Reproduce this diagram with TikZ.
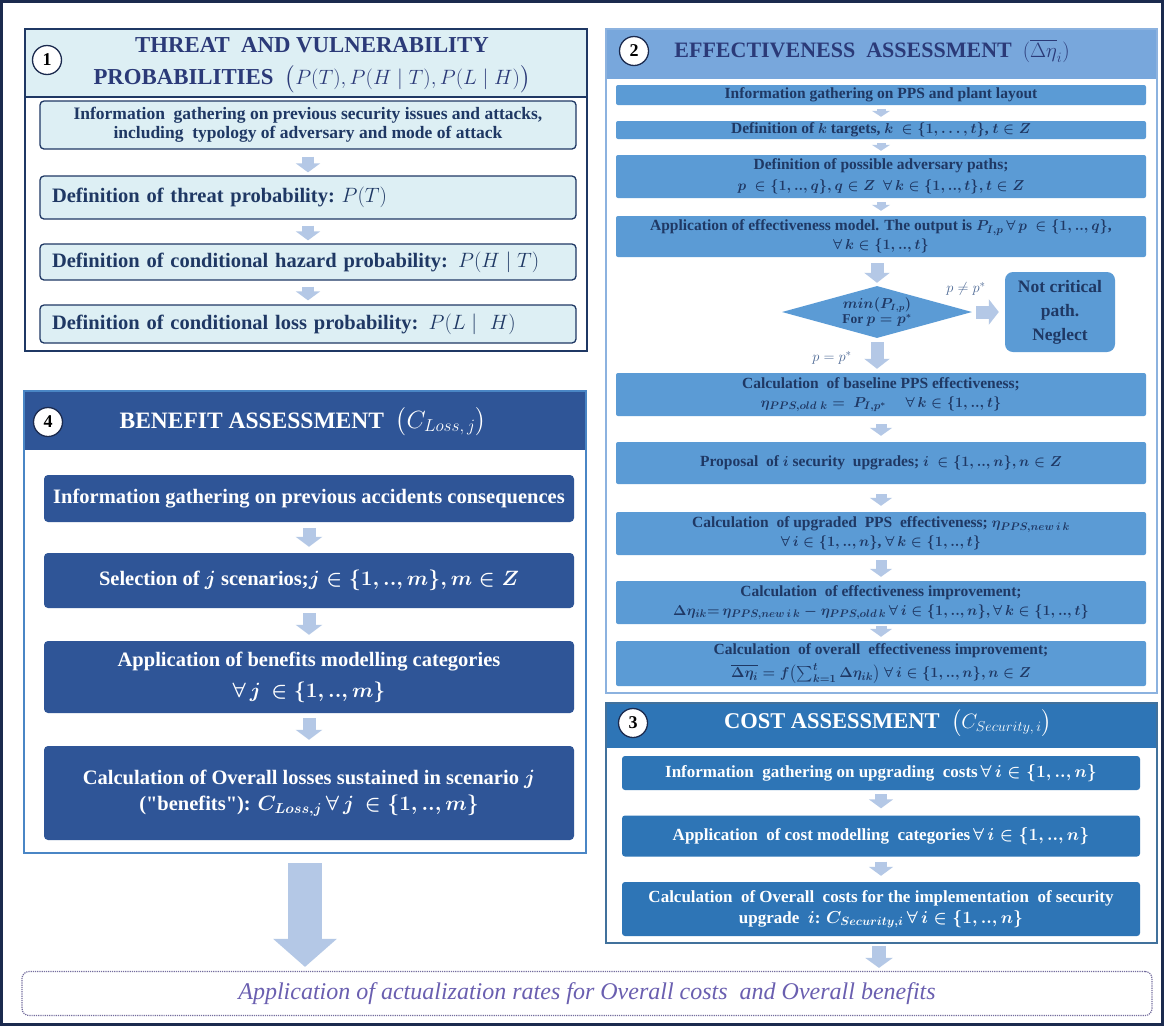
\documentclass[tikz,border=0pt]{standalone}
\usepackage{amsmath,amssymb}
\usepackage{fontspec}
\setmainfont{Liberation Serif}
\setmonofont{Liberation Serif}
\usetikzlibrary{arrows.meta,shapes.geometric,calc}
\definecolor{navy}{HTML}{1F3864}
\definecolor{frame}{HTML}{1B2A4E}
\definecolor{cyanbg}{HTML}{DDEFF4}
\definecolor{ttl}{HTML}{2B3A78}
\definecolor{midblue}{HTML}{5B9BD5}
\definecolor{hdrblue}{HTML}{78A7DC}
\definecolor{ptwob}{HTML}{8CB2DF}
\definecolor{costblue}{HTML}{2E75B6}
\definecolor{pthreeb}{HTML}{41719C}
\definecolor{benblue}{HTML}{2F5597}
\definecolor{pfourb}{HTML}{4A86C5}
\definecolor{arrowblue}{HTML}{B4C8E6}
\definecolor{purp}{HTML}{6A5FB0}
\definecolor{lbl}{HTML}{4C6894}
\newcommand\fs[2]{\fontsize{#1}{#2}\selectfont}
\newcommand\sq{{\ttfamily\bfseries "}}
\tikzset{
 numc/.style={circle, draw=frame, line width=1.3pt, fill=white, minimum size=29pt, inner sep=0pt, font=\bfseries\fs{18}{20}, text=black},
 boxone/.style={draw=navy, line width=1.3pt, fill=cyanbg, rounded corners=4pt, minimum width=536pt, inner sep=0pt, text=navy},
 boxtwo/.style={fill=midblue, rounded corners=2pt, minimum width=530pt, inner sep=0pt, align=center, text=navy, font=\bfseries\boldmath\fs{15.5}{19}},
 boxthree/.style={fill=costblue, rounded corners=3pt, minimum width=518pt, inner sep=0pt, align=center, text=white, font=\bfseries\boldmath\fs{17}{21}},
 boxfour/.style={fill=benblue, rounded corners=4pt, minimum width=530pt, inner sep=0pt, align=center, text=white, font=\bfseries\boldmath\fs{20.5}{26}},
 panelframe/.style={draw, line width=2pt, anchor=north west, inner sep=0pt},
 flow/.style={draw=arrowblue, line width=12pt, -{Triangle[width=24pt,length=9pt]}},
 bigflow/.style={draw=arrowblue, line width=34pt, -{Triangle[width=62pt,length=28pt]}},
 lblsty/.style={text=lbl, font=\fs{15}{17}, inner sep=1pt},
}
\begin{document}
\begin{tikzpicture}[x=1pt,y=-1pt]
\useasboundingbox (0,0) rectangle (1164,1026);
\fill[white] (0,0) rectangle (1164,1026);
\draw[frame, line width=3pt] (1.5,1.5) rectangle (1162.5,1024.5);

% ---------- Panel 1 ----------
\fill[cyanbg] (24,28) rectangle (586,97);
\draw[navy, line width=1.2pt] (24,97) -- (586,97);
\node[panelframe, draw=navy, minimum width=562pt, minimum height=322pt] (P1) at (24,28) {};
\node[numc] (c1) at (47,60) {1};
\node[text=ttl, font=\bfseries\fs{22.8}{22.8}, align=center] (t1) at (312,45) {THREAT\ \ AND VULNERABILITY};
\node[text=ttl, font=\bfseries\fs{22.8}{22.8}, align=center] (t1b) at (312,79)
  {PROBABILITIES\ \ $\bigl(P(T),P(H\mid T),P(L\mid H)\bigr)$};
\node[boxone, minimum height=48pt, align=center, font=\bfseries\fs{17.5}{19.5}] (a1) at (308,125)
  {Information\ \ gathering on previous security issues and attacks,\\including\ \ typology of adversary and mode of attack};
\node[boxone, minimum height=43pt, align=left, text width=512pt, inner xsep=12pt, font=\bfseries\fs{20.5}{23}] (b1) at (308,197.5)
  {Definition of threat probability:\ $P(T)$};
\node[boxone, minimum height=36pt, align=left, text width=512pt, inner xsep=12pt, font=\bfseries\fs{20.5}{23}] (b2) at (308,262)
  {Definition of conditional hazard probability: $P(H\mid T)$};
\node[boxone, minimum height=38pt, align=left, text width=512pt, inner xsep=12pt, font=\bfseries\fs{20.5}{23}] (b3) at (308,324)
  {Definition of conditional loss probability: $P(L\mid\ H)$};
\draw[flow, shorten <=7pt, shorten >=3pt] (a1) -- (b1);
\draw[flow, shorten <=6pt, shorten >=3pt] (b1) -- (b2);
\draw[flow, shorten <=6pt, shorten >=4pt] (b2) -- (b3);

% ---------- Panel 2 ----------
\fill[hdrblue] (605,28) rectangle (1156,79);
\node[panelframe, draw=ptwob, minimum width=551pt, minimum height=664pt] (P2) at (605,28) {};
\node[numc] (c2) at (634,51) {2};
\node[text=ttl, font=\bfseries\fs{22}{26}] (t2) at (872,51)
  {EFFECTIVENESS\ \ ASSESSMENT\ \ $(\overline{\Delta\eta}_i)$};
\node[boxtwo, minimum height=20pt] (e1) at (881,95) {Information gathering on PPS and plant\ layout};
\node[boxtwo, minimum height=18pt] (e2) at (881,130) {Definition of $k$ targets, $k\ \in\{1,\dots,t\}$,\ $t\in Z$};
\node[boxtwo, minimum height=43pt] (e3) at (881,176.5)
  {Definition of possible adversary paths;\\[2pt] $p\ \in\{1,..,q\}, q\in Z\ \ \forall\, k\in\{1,..,t\}, t\in Z$};
\node[boxtwo, minimum height=41pt] (e4) at (881,236.5)
  {Application of effectiveness model. The output is $P_{I,p}\,\forall\, p\ \in\{1,..,q\}$,\\$\forall\, k\in\{1,..,t\}$};
\node[diamond, fill=midblue, aspect=3.6, inner sep=0pt, minimum width=190pt, minimum height=52pt,
      text=navy, font=\bfseries\boldmath\fs{13.5}{15.5}, align=center] (dia) at (877,312)
  {$min(P_{I,p})$\\For $p=p^{*}$};
\node[fill=midblue, rounded corners=8pt, minimum width=110pt, minimum height=80pt, inner sep=0pt,
      align=center, text=navy, font=\bfseries\fs{17.5}{24}] (nc) at (1060,312) {Not critical\\path.\\Neglect};
\node[lblsty] (lne) at (966,289) {$p\neq p^{*}$};
\node[lblsty] (leq) at (832,358) {$p=p^{*}$};
\node[boxtwo, minimum height=43pt] (e5) at (881,394.5)
  {Calculation\ \ of baseline PPS effectiveness;\\$\eta_{PPS,old\ k} =\ P_{I,p^{*}}\quad\ \forall\, k\in\{1,..,t\}$};
\node[boxtwo, minimum height=42pt] (e6) at (881,463)
  {Proposal\ \ of $i$ security\ \ upgrades;\ $i\ \in\{1,..,n\}, n\in Z$};
\node[boxtwo, minimum height=43pt] (e7) at (881,533.5)
  {Calculation\ \ of upgraded\ \ PPS\ \ effectiveness; $\eta_{PPS,new\,i\,k}$\\$\forall\, i\in\{1,..,n\}$,\ $\forall\, k\in\{1,..,t\}$};
\node[boxtwo, minimum height=43pt] (e8) at (881,602.5)
  {Calculation\ \ of effectiveness improvement;\\$\Delta\eta_{ik}{=}\,\eta_{PPS,new\,i\,k}-\eta_{PPS,old\,k}\,\forall\, i\in\{1,..,n\}, \forall\, k\in\{1,..,t\}$};
\node[boxtwo, minimum height=45pt] (e9) at (881,663.5)
  {Calculation\ \ of overall\ \ effectiveness improvement;\\[4pt]$\overline{\Delta\eta_i}=f\bigl(\sum_{k=1}^{t}\Delta\eta_{ik}\bigr)\ \forall\, i\in\{1,..,n\}, n\in Z$};
\draw[flow, line width=9pt, -{Triangle[width=18pt,length=6pt]}, shorten <=4pt, shorten >=4pt] (e1) -- (e2);
\draw[flow, line width=9pt, -{Triangle[width=18pt,length=6pt]}, shorten <=4pt, shorten >=4pt] (e2) -- (e3);
\draw[flow, line width=9pt, -{Triangle[width=18pt,length=6pt]}, shorten <=4pt, shorten >=5pt] (e3) -- (e4);
\draw[flow, line width=13pt, -{Triangle[width=25pt,length=10pt]}, shorten <=6pt, shorten >=3pt] (e4.south -| dia.north) -- (dia.north);
\draw[flow, line width=13pt, -{Triangle[width=25pt,length=10pt]}, shorten <=4pt, shorten >=6pt] (dia.east) -- (nc.west);
\draw[flow, line width=13pt, -{Triangle[width=25pt,length=10pt]}, shorten <=4pt, shorten >=4pt] (dia.south) -- (dia.south |- e5.north);
\draw[flow, line width=11pt, -{Triangle[width=22pt,length=8pt]}, shorten <=8pt, shorten >=6pt] (e5) -- (e6);
\draw[flow, line width=11pt, -{Triangle[width=22pt,length=8pt]}, shorten <=10pt, shorten >=6pt] (e6) -- (e7);
\draw[flow, line width=11pt, -{Triangle[width=22pt,length=8pt]}, shorten <=5pt, shorten >=4pt] (e7) -- (e8);
\draw[flow, line width=11pt, -{Triangle[width=22pt,length=8pt]}, shorten <=2pt, shorten >=4pt] (e8) -- (e9);

% ---------- Panel 3 ----------
\fill[costblue] (605,702) rectangle (1156,748);
\node[panelframe, draw=pthreeb, minimum width=551pt, minimum height=240pt] (P3) at (605,702) {};
\node[numc] (c3) at (633,723) {3};
\node[text=white, font=\bfseries\fs{22.5}{26}] (t3) at (888,723)
  {COST ASSESSMENT\ \ $\bigl(C_{Security,\,i}\bigr)$};
\node[boxthree, minimum height=34pt] (g1) at (881,773)
  {Information\ \ gathering on upgrading\ \ costs\,$\forall\, i\in\{1,..,n\}$};
\node[boxthree, minimum height=41pt] (g2) at (881,836)
  {Application\ \ of cost modelling\ \ categories\,$\forall\, i\in\{1,..,n\}$};
\node[boxthree, minimum height=54pt] (g3) at (881,909)
  {Calculation\ \ of Overall\ \ costs for the implementation\ \ of security\\upgrade\ \ $i$: $C_{Security,i}\,\forall\, i\in\{1,..,n\}$};
\draw[flow, shorten <=4pt, shorten >=7pt] (g1) -- (g2);
\draw[flow, shorten <=5pt, shorten >=6pt] (g2) -- (g3);

% ---------- Panel 4 ----------
\fill[benblue] (23,390) rectangle (585,450);
\node[panelframe, draw=pfourb, minimum width=562pt, minimum height=462pt] (P4) at (23,390) {};
\node[numc] (c4) at (48,422) {4};
\node[text=white, font=\bfseries\fs{23.5}{27}] (t4) at (303,422)
  {BENEFIT ASSESSMENT\ \ $\bigl(C_{Loss,\,j}\bigr)$};
\node[boxfour, minimum height=47pt] (f1) at (309,498.5)
  {Information gathering on previous accidents consequences};
\node[boxfour, minimum height=55pt] (f2) at (309,580.5)
  {Selection of $j$ scenarios;$j\in\{1,..,m\}, m\in Z$};
\node[boxfour, minimum height=72pt, font=\bfseries\boldmath\fs{20.5}{31}] (f3) at (309,677)
  {Application of benefits modelling categories\\$\forall\, j\,\in\{1,..,m\}$};
\node[boxfour, minimum height=94pt] (f4) at (309,793)
  {Calculation of Overall losses sustained in scenario $j$\\(\sq benefits\sq): $C_{Loss,j}\,\forall\, j\,\in\{1,..,m\}$};
\draw[flow, line width=13pt, -{Triangle[width=26pt,length=10pt]}, shorten <=6pt, shorten >=6pt] (f1) -- (f2);
\draw[flow, line width=13pt, -{Triangle[width=26pt,length=10pt]}, shorten <=5pt, shorten >=6pt] (f2) -- (f3);
\draw[flow, line width=13pt, -{Triangle[width=26pt,length=10pt]}, shorten <=5pt, shorten >=6pt] (f3) -- (f4);

% ---------- Bottom ----------
\node[draw=purp!60!gray, densely dotted, line width=1.2pt, rounded corners=7pt, minimum width=1130pt, minimum height=44pt,
      inner sep=0pt, text=purp, font=\itshape\fs{24}{26}] (fin) at (587,993.5)
  {Application of actualization rates for Overall costs\ \ and Overall benefits};
\coordinate (p4b) at (305,863);
\coordinate (p3b) at (879,946);
\draw[bigflow, shorten >=4pt] (p4b) -- (p4b |- fin.north);
\draw[flow, line width=14pt, -{Triangle[width=27pt,length=10pt]}, shorten >=3pt] (p3b) -- (p3b |- fin.north);
\end{tikzpicture}
\end{document}
